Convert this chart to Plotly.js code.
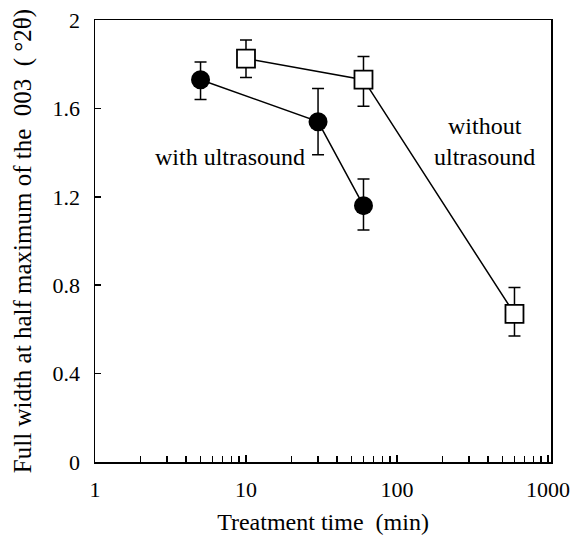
<!DOCTYPE html>
<html><head><meta charset="utf-8">
<script src="https://cdn.plot.ly/plotly-3.0.1.min.js"></script>
<style>body{margin:0;padding:0;background:#fff}#chart{width:577px;height:538px}</style>
</head><body><div id="chart"></div>
<script>
const withTime = [5, 30, 60];
const withFWHM = [1.73, 1.54, 1.16];
const withErrUp = [0.08, 0.15, 0.12];
const withErrDown = [0.09, 0.15, 0.11];

const withoutTime = [10, 60, 600];
const withoutFWHM = [1.825, 1.73, 0.67];
const withoutErrUp = [0.085, 0.105, 0.12];
const withoutErrDown = [0.085, 0.12, 0.10];

const xTickVals = [1, 10, 100, 1000];
const xTickText = ['1', '10', '100', '1000'];
const xMinorVals = [2,3,4,5,6,7,8,9,20,30,40,50,60,70,80,90,200,300,400,500,600,700,800,900];
const yTickVals = [0, 0.4, 0.8, 1.2, 1.6, 2];
const yTickText = ['0', '0.4', '0.8', '1.2', '1.6', '2'];

const fam = "Liberation Serif";
const tickFont = {family: fam, size: 22, color: '#000'};
const titleFont = {family: fam, size: 24, color: '#000'};
const yTitleFont = {family: fam, size: 25, color: '#000'};

const traces = [
  {
    x: withTime, y: withFWHM, type: 'scatter', mode: 'lines+markers',
    line: {color: '#000', width: 1.5},
    marker: {symbol: 'circle', size: 19, color: '#000'},
    error_y: {type: 'data', symmetric: false, array: withErrUp, arrayminus: withErrDown,
              color: '#000', thickness: 1.5, width: 6},
    showlegend: false
  },
  {
    x: withoutTime, y: withoutFWHM, type: 'scatter', mode: 'lines+markers',
    line: {color: '#000', width: 1.5},
    marker: {symbol: 'square', size: 18, color: '#fff', line: {color: '#000', width: 1.8}},
    error_y: {type: 'data', symmetric: false, array: withoutErrUp, arrayminus: withoutErrDown,
              color: '#000', thickness: 1.5, width: 6},
    showlegend: false
  }
];

const layout = {
  width: 577, height: 538,
  margin: {l: 95, r: 26, t: 20, b: 76},
  paper_bgcolor: '#fff', plot_bgcolor: '#fff',
  font: tickFont,
  xaxis: {
    type: 'log', range: [0, 3.02],
    tickmode: 'array', tickvals: xTickVals, ticktext: xTickText,
    ticks: 'inside', ticklen: 7, tickwidth: 1.5, tickcolor: '#000',
    minor: {tickmode: 'array', tickvals: xMinorVals, ticks: 'inside', ticklen: 6, tickwidth: 1.5, tickcolor: '#000', showgrid: false},
    showline: true, linecolor: '#000', linewidth: 1.5, mirror: true,
    showgrid: false, zeroline: false,
    ticklabelstandoff: 7,
    tickfont: tickFont,
    title: {text: 'Treatment time\u00a0\u00a0(min)', font: titleFont, standoff: 12}
  },
  yaxis: {
    range: [0, 2],
    tickmode: 'array', tickvals: yTickVals, ticktext: yTickText,
    ticks: 'inside', ticklen: 6, tickwidth: 1.5, tickcolor: '#000',
    showline: true, linecolor: '#000', linewidth: 1.5, mirror: true,
    showgrid: false, zeroline: false,
    ticklabelstandoff: 9,
    tickfont: tickFont,
    title: {text: 'Full width at half maximum of the\u00a0\u00a0003\u00a0\u00a0(\u00a0°2θ)', font: yTitleFont, standoff: 14}
  },
  annotations: [
    {x: Math.log10(7.8), y: 1.38, xref: 'x', yref: 'y', text: 'with ultrasound', showarrow: false, font: titleFont},
    {x: Math.log10(380), y: 1.45, xref: 'x', yref: 'y', text: 'without<br>ultrasound', showarrow: false, font: titleFont, align: 'center'}
  ]
};

Plotly.newPlot('chart', traces, layout, {displayModeBar: false, staticPlot: true});
</script></body></html>
